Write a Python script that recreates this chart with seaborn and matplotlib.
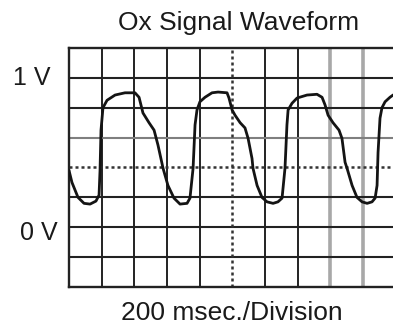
import numpy as np
import pandas as pd
import matplotlib
matplotlib.use("Agg")
import matplotlib.pyplot as plt
import seaborn as sns

# Oxygen sensor output, time in ms (200 ms per division) and volts (0.2 V per division)
time_ms = [0, 18, 55, 92, 129, 165, 184, 190, 196, 208, 233, 282, 343, 404, 429, 453,
           490, 521, 545, 576, 606, 643, 680, 723, 741, 760, 772, 784, 802, 833, 876,
           913, 968, 980, 999, 1017, 1048, 1078, 1097, 1121, 1127, 1152, 1182, 1213,
           1250, 1280, 1305, 1323, 1335, 1342, 1366, 1397, 1458, 1519, 1550, 1568,
           1587, 1617, 1654, 1672, 1691, 1703, 1734, 1764, 1795, 1826, 1856, 1875,
           1887, 1893, 1905, 1917, 1936, 1966, 1985, 2000]
volts = [0.38, 0.30, 0.20, 0.16, 0.155, 0.175, 0.215, 0.38, 0.65, 0.80, 0.85, 0.885,
         0.90, 0.90, 0.87, 0.765, 0.70, 0.65, 0.55, 0.395, 0.28, 0.195, 0.155, 0.16,
         0.195, 0.395, 0.685, 0.785, 0.84, 0.87, 0.90, 0.905, 0.90, 0.865, 0.785, 0.75,
         0.70, 0.665, 0.595, 0.46, 0.395, 0.28, 0.20, 0.17, 0.16, 0.17, 0.195, 0.395,
         0.685, 0.785, 0.83, 0.865, 0.885, 0.89, 0.87, 0.82, 0.75, 0.70, 0.65, 0.595,
         0.435, 0.395, 0.28, 0.20, 0.17, 0.16, 0.17, 0.195, 0.28, 0.50, 0.73, 0.80,
         0.84, 0.87, 0.885, 0.89]

title = "Ox Signal Waveform"
x_caption = "200 msec./Division"
level_labels = ["1 V", "0 V"]
level_values = [1.0, 0.0]

sns.set_style("white")
plt.rcParams["font.family"] = ["Liberation Sans", "DejaVu Sans"]

fig = plt.figure(figsize=(3.93, 3.24), dpi=100)
ax = fig.add_axes([0.1756, 0.1142, 0.8308, 0.7377])
ax.set_xlim(0, 2000)
ax.set_ylim(-0.4, 1.2)

# Scope graticule
grid_dark = "#222222"
for t in range(200, 2000, 200):
    if t == 1000:
        continue
    if t in (1600, 1800):
        ax.axvline(t, color="#a8a8a8", lw=2.6, zorder=1)
    else:
        ax.axvline(t, color=grid_dark, lw=1.4, zorder=1)
for v in np.arange(-0.2, 1.2, 0.2):
    v = round(v, 1)
    if v == 0.4:
        continue
    col = "#7f7f7f" if v == 0.6 else grid_dark
    ax.axhline(v, color=col, lw=1.5, zorder=1)

# Dotted centre cross-hair
ax.axvline(1000, color="#333333", lw=1.8, ls=(0, (1.2, 1.2)), zorder=1)
ax.axhline(0.4, color="#333333", lw=1.8, ls=(0, (1.2, 1.2)), zorder=1)

for side in ("left", "top", "bottom"):
    ax.spines[side].set_color("#222222")
    ax.spines[side].set_linewidth(1.7)
ax.spines["right"].set_visible(False)
ax.set_xticks([])
ax.set_yticks([])

df = pd.DataFrame({"t": time_ms, "v": volts})
sns.lineplot(data=df, x="t", y="v", ax=ax, color="#141414", lw=2.0,
             sort=False, estimator=None, zorder=3)
ax.set_xlabel("")
ax.set_ylabel("")

ax.text(-0.058, level_values[0], level_labels[0], transform=ax.get_yaxis_transform(),
        ha="right", va="center", fontsize=18, color="#1a1a1a")
ax.text(-0.034, level_values[1] - 0.04, level_labels[1], transform=ax.get_yaxis_transform(),
        ha="right", va="center", fontsize=18, color="#1a1a1a")

fig.text(238.5 / 393, 1 - 23 / 324, title, ha="center", va="center",
         fontsize=19, color="#1a1a1a")
fig.text(231.5 / 393, 1 - 313 / 324, x_caption, ha="center", va="center",
         fontsize=19, color="#1a1a1a")

fig.savefig("out.png", dpi=100)
